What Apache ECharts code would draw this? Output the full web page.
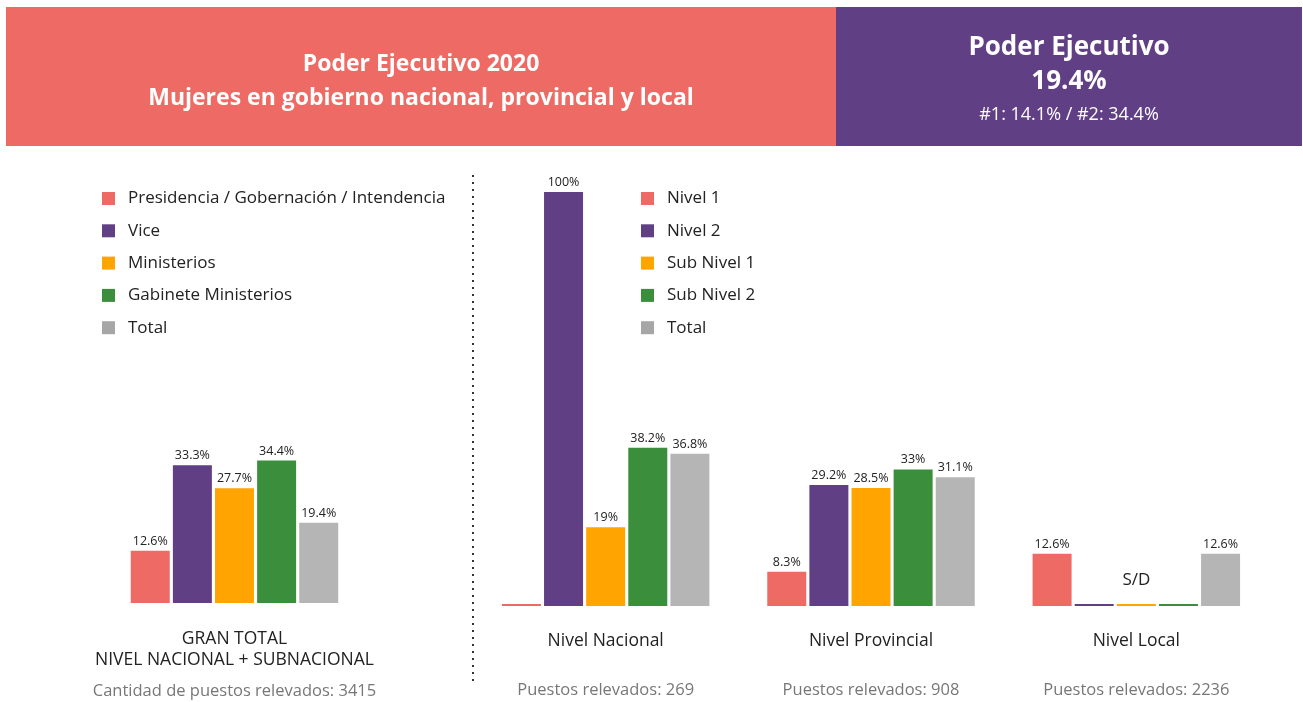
<!DOCTYPE html>
<html>
<head>
<meta charset="utf-8">
<title>Poder Ejecutivo 2020</title>
<script src="https://cdn.jsdelivr.net/npm/echarts@6/dist/echarts.min.js"></script>
<style>
    html,body{margin:0;padding:0;background:#fff;}
    #J_Main{width:1303px;height:702px;}
</style>
</head>
<body>
<div id="J_Main"></div>
<script>
// datos
var colores = ['#EE6A64', '#613F85', '#FFA400', '#3B8E3B', '#B5B5B5'];
var leyendaColores = ['#EE6A64', '#613F85', '#FFA400', '#3B8E3B', '#A6A6A6'];

var totalSeries = ['Presidencia / Gobernación / Intendencia', 'Vice', 'Ministerios', 'Gabinete Ministerios', 'Total'];
var totalValores = [12.6, 33.3, 27.7, 34.4, 19.4];
var totalCategoria = ['GRAN TOTAL\nNIVEL NACIONAL + SUBNACIONAL'];
var totalPuestos = [3415];

var nivelSeries = ['Nivel 1', 'Nivel 2', 'Sub Nivel 1', 'Sub Nivel 2', 'Total'];
var niveles = ['Nivel Nacional', 'Nivel Provincial', 'Nivel Local'];
var nivelPuestos = [269, 908, 2236];
// una fila por serie, una columna por nivel (0 = sin valor)
var nivel1 = [0, 8.3, 12.6];
var nivel2 = [100, 29.2, 0];
var subNivel1 = [19, 28.5, 0];
var subNivel2 = [38.2, 33, 0];
var nivelTotal = [36.8, 31.1, 12.6];
var sinDatos = [false, false, true]; // S/D

var headerTitulo = ['Poder Ejecutivo 2020', 'Mujeres en gobierno nacional, provincial y local'];
var headerResumen = ['Poder Ejecutivo', '19.4%', '#1: 14.1% / #2: 34.4%'];

var fuente = '"Open Sans", "Noto Sans", sans-serif';

function etiqueta(p) {
    return p.value ? p.value + '%' : '';
}

var myChart = echarts.init(document.getElementById('J_Main'));

var series = [];
totalSeries.forEach(function (nombre, i) {
    series.push({
        name: nombre,
        type: 'bar',
        xAxisIndex: 0,
        yAxisIndex: 0,
        barWidth: 39,
        barGap: '8%',
        itemStyle: {color: colores[i]},
        label: {show: true, position: 'top', distance: 3, color: '#222', fontSize: 12.5, fontFamily: fuente, formatter: etiqueta},
        data: [totalValores[i]]
    });
});

[nivel1, nivel2, subNivel1, subNivel2, nivelTotal].forEach(function (valores, i) {
    series.push({
        name: nivelSeries[i],
        type: 'bar',
        xAxisIndex: 1,
        yAxisIndex: 1,
        barWidth: 39,
        barGap: '8%',
        barMinHeight: 2,
        itemStyle: {color: colores[i]},
        label: {show: true, position: 'top', distance: 3, color: '#222', fontSize: 12.5, fontFamily: fuente, formatter: etiqueta},
        data: valores.map(function (v, j) {
            // el "S/D" se escribe sobre la barra central del nivel sin datos
            if (sinDatos[j] && i === 2) {
                return {value: v, label: {show: true, formatter: 'S/D', fontSize: 17, color: '#222', distance: 15}};
            }
            return v;
        })
    });
});

var option = {
    animation: false,
    textStyle: {fontFamily: fuente},
    legend: [{
        orient: 'vertical',
        left: 97,
        top: 185,
        itemWidth: 13,
        itemHeight: 13,
        itemGap: 15.3,
        icon: 'rect',
        textStyle: {fontSize: 17, color: '#222', padding: [0, 0, 0, 8], fontFamily: fuente},
        selectedMode: false,
        data: totalSeries.map(function (n, i) {
            return {name: n, itemStyle: {color: leyendaColores[i]}};
        })
    }, {
        orient: 'vertical',
        left: 636,
        top: 185,
        itemWidth: 13,
        itemHeight: 13,
        itemGap: 15.3,
        icon: 'rect',
        textStyle: {fontSize: 17, color: '#222', padding: [0, 0, 0, 8], fontFamily: fuente},
        selectedMode: false,
        data: nivelSeries.map(function (n, i) {
            return {name: n, itemStyle: {color: leyendaColores[i]}};
        })
    }],
    grid: [
        {left: 102, width: 265, top: 189, height: 414},
        {left: 473, width: 796, top: 192, height: 414}
    ],
    xAxis: [{
        type: 'category',
        gridIndex: 0,
        data: totalCategoria,
        axisLine: {show: false},
        axisTick: {show: false},
        axisLabel: {
            margin: 26,
            formatter: function (v, idx) {
                var l = v.split('\n');
                return '{a|' + l[0] + '}\n{a|' + l[1] + '}\n{b|Cantidad de puestos relevados: ' + totalPuestos[idx] + '}';
            },
            rich: {
                a: {fontSize: 17.5, color: '#222', lineHeight: 21, fontFamily: fuente},
                b: {fontSize: 16.5, color: '#777', lineHeight: 41, fontFamily: fuente}
            }
        }
    }, {
        type: 'category',
        gridIndex: 1,
        data: niveles,
        axisLine: {show: false},
        axisTick: {show: false},
        axisLabel: {
            margin: 25,
            formatter: function (v, idx) {
                return '{a|' + v + '}\n{b|Puestos relevados: ' + nivelPuestos[idx] + '}';
            },
            rich: {
                a: {fontSize: 17.5, color: '#222', lineHeight: 20, fontFamily: fuente},
                b: {fontSize: 16.5, color: '#777', lineHeight: 78, fontFamily: fuente}
            }
        }
    }],
    yAxis: [
        {type: 'value', gridIndex: 0, min: 0, max: 100, show: false},
        {type: 'value', gridIndex: 1, min: 0, max: 100, show: false}
    ],
    graphic: [
        {type: 'rect', shape: {x: 6, y: 7, width: 830, height: 139}, style: {fill: '#EE6A64'}, silent: true},
        {type: 'rect', shape: {x: 836, y: 7, width: 466, height: 139}, style: {fill: '#613F85'}, silent: true},
        {type: 'text', x: 421, y: 64, style: {text: headerTitulo[0], fill: '#fff', font: 'bold 23px ' + fuente, textAlign: 'center', textVerticalAlign: 'middle'}},
        {type: 'text', x: 421, y: 98, style: {text: headerTitulo[1], fill: '#fff', font: 'bold 23px ' + fuente, textAlign: 'center', textVerticalAlign: 'middle'}},
        {type: 'text', x: 1069, y: 48, style: {text: headerResumen[0], fill: '#fff', font: 'bold 26px ' + fuente, textAlign: 'center', textVerticalAlign: 'middle'}},
        {type: 'text', x: 1069, y: 82, style: {text: headerResumen[1], fill: '#fff', font: 'bold 26px ' + fuente, textAlign: 'center', textVerticalAlign: 'middle'}},
        {type: 'text', x: 1069, y: 115, style: {text: headerResumen[2], fill: '#fff', font: '18px ' + fuente, textAlign: 'center', textVerticalAlign: 'middle'}},
        {type: 'line', shape: {x1: 473, y1: 175, x2: 473, y2: 681}, style: {stroke: '#333', lineWidth: 2, lineDash: [2, 5]}, silent: true}
    ],
    series: series
};

myChart.setOption(option);
</script>
</body>
</html>
